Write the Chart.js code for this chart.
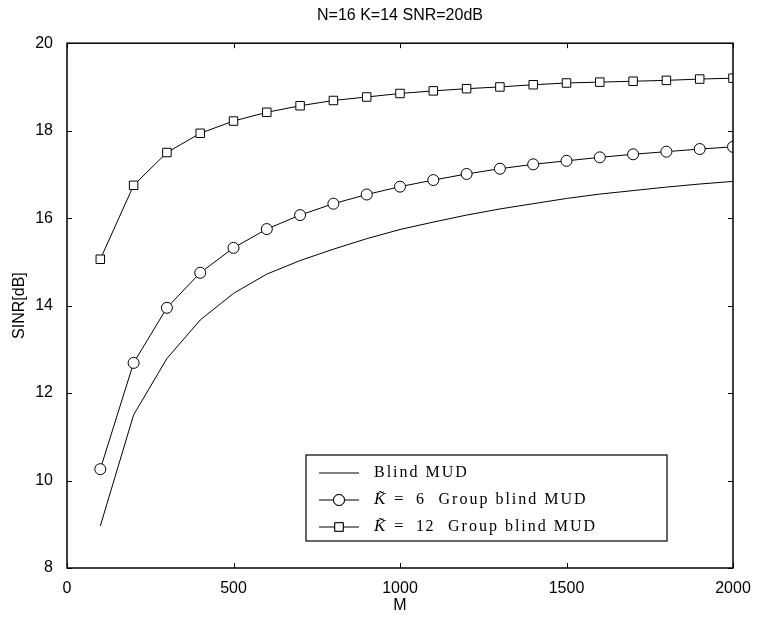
<!DOCTYPE html>
<html lang="en">
<head>
    <meta charset="UTF-8">
    <title>N=16 K=14 SNR=20dB</title>
    <script src="https://cdn.jsdelivr.net/npm/chart.js"></script>
    <style>
        body { margin: 0; background: #fff; }
        canvas { display: block; }
    </style>
</head>
<body>
    <canvas id="sinr" width="759" height="623"></canvas>

    <script>
        // data
        const mValues = [100, 200, 300, 400, 500, 600, 700, 800, 900, 1000,
                         1100, 1200, 1300, 1400, 1500, 1600, 1700, 1800, 1900, 2000];
        const blindMud = [8.96, 11.50, 12.79, 13.67, 14.28, 14.72, 15.03, 15.29, 15.53, 15.74,
                          15.91, 16.07, 16.21, 16.33, 16.45, 16.55, 16.63, 16.71, 16.78, 16.84];
        const groupK6 = [10.26, 12.69, 13.95, 14.75, 15.32, 15.75, 16.07, 16.33, 16.54, 16.72,
                         16.87, 17.01, 17.13, 17.23, 17.31, 17.39, 17.46, 17.52, 17.58, 17.63];
        const groupK12 = [15.06, 16.75, 17.50, 17.94, 18.22, 18.42, 18.57, 18.69, 18.77, 18.85,
                          18.91, 18.96, 19.00, 19.05, 19.09, 19.11, 19.13, 19.15, 19.18, 19.20];
        const xTicks = [0, 500, 1000, 1500, 2000];
        const yTicks = [8, 10, 12, 14, 16, 18, 20];
        const groupSizes = [null, '6', '12'];   // K tilde for each legend row

        const sansFont = '"Liberation Sans", Arial, sans-serif';
        const serifFont = '"Liberation Serif", "DejaVu Serif", serif';

        function points(ys) {
            return mValues.map((m, i) => ({ x: m, y: ys[i] }));
        }

        // box round the plot and small ticks pointing inwards
        const frame = {
            id: 'frame',
            afterDraw(chart) {
                const { ctx, chartArea: a, scales } = chart;
                ctx.save();
                ctx.strokeStyle = '#000';
                ctx.lineWidth = 1.5;
                ctx.strokeRect(a.left, a.top, a.right - a.left, a.bottom - a.top);
                ctx.lineWidth = 1;
                ctx.beginPath();
                xTicks.forEach(v => {
                    const px = Math.round(scales.x.getPixelForValue(v)) + 0.5;
                    ctx.moveTo(px, a.bottom); ctx.lineTo(px, a.bottom - 5);
                    ctx.moveTo(px, a.top); ctx.lineTo(px, a.top + 5);
                });
                yTicks.forEach(v => {
                    const py = Math.round(scales.y.getPixelForValue(v)) + 0.5;
                    ctx.moveTo(a.left, py); ctx.lineTo(a.left + 5, py);
                    ctx.moveTo(a.right, py); ctx.lineTo(a.right - 5, py);
                });
                ctx.stroke();
                ctx.restore();
            }
        };

        // legend box in the lower right of the plot
        const boxLegend = {
            id: 'boxLegend',
            afterDraw(chart) {
                const { ctx, chartArea: a } = chart;
                const left = a.left + 239, top = a.bottom - 113;
                const w = 361, h = 86;
                ctx.save();
                ctx.fillStyle = '#fff';
                ctx.fillRect(left, top, w, h);
                ctx.strokeStyle = '#000';
                ctx.lineWidth = 1.2;
                ctx.strokeRect(left, top, w, h);

                chart.data.datasets.forEach((ds, i) => {
                    const y = top + 18 + i * 27;
                    ctx.strokeStyle = '#000';
                    ctx.lineWidth = 1;
                    ctx.beginPath();
                    ctx.moveTo(left + 13, y); ctx.lineTo(left + 53, y);
                    ctx.stroke();
                    if (ds.pointRadius > 0) {
                        ctx.fillStyle = '#fff';
                        Chart.helpers.drawPoint(ctx, {
                            pointStyle: ds.pointStyle, radius: ds.pointRadius,
                            borderWidth: 1, rotation: 0
                        }, left + 33, y);
                        ctx.fill();
                        ctx.stroke();
                    }
                    ctx.fillStyle = '#000';
                    ctx.textBaseline = 'middle';
                    ctx.letterSpacing = '2px';
                    ctx.font = '16px ' + serifFont;
                    const x = left + 68;
                    if (groupSizes[i] === null) {
                        ctx.fillText(ds.label, x, y);
                    } else {
                        ctx.letterSpacing = '0px';
                        ctx.font = 'italic 17px ' + serifFont;
                        ctx.fillText('K\u0303', x, y);
                        ctx.font = '17px ' + serifFont;
                        ctx.fillText('=', x + 20, y);
                        ctx.letterSpacing = '1.5px';
                        ctx.font = '16px ' + serifFont;
                        ctx.fillText(groupSizes[i], x + 42, y);
                        const nx = x + 42 + ctx.measureText(groupSizes[i]).width + 13;
                        ctx.letterSpacing = '2px';
                        ctx.fillText('Group blind MUD', nx, y);
                    }
                });
                ctx.restore();
            }
        };

        new Chart(document.getElementById('sinr'), {
            type: 'line',
            data: {
                datasets: [
                    {
                        label: 'Blind MUD',
                        data: points(blindMud),
                        borderColor: '#000', borderWidth: 1,
                        pointRadius: 0, pointStyle: false
                    },
                    {
                        label: 'K\u0303 = 6  Group blind MUD',
                        data: points(groupK6),
                        borderColor: '#000', borderWidth: 1,
                        pointStyle: 'circle', pointRadius: 5.5,
                        pointBackgroundColor: '#fff', pointBorderColor: '#000', pointBorderWidth: 1
                    },
                    {
                        label: 'K\u0303 = 12  Group blind MUD',
                        data: points(groupK12),
                        borderColor: '#000', borderWidth: 1,
                        pointStyle: 'rect', pointRadius: 6,
                        pointBackgroundColor: '#fff', pointBorderColor: '#000', pointBorderWidth: 1
                    }
                ]
            },
            options: {
                responsive: false,
                animation: false,
                layout: { padding: { left: 0, right: 26, top: 0, bottom: 0 } },
                plugins: {
                    legend: { display: false },
                    tooltip: { enabled: false },
                    title: {
                        display: true,
                        text: 'N=16 K=14 SNR=20dB',
                        color: '#000',
                        fullSize: false,
                        font: { family: sansFont, size: 16, weight: 'normal' },
                        padding: { top: 6, bottom: 18 }
                    }
                },
                scales: {
                    x: {
                        type: 'linear',
                        min: 0, max: 2000,
                        afterBuildTicks: s => { s.ticks = xTicks.map(v => ({ value: v })); },
                        afterFit: s => { s.height = 55; },
                        grid: { display: false },
                        border: { display: false },
                        ticks: {
                            color: '#000', padding: 3,
                            font: { family: sansFont, size: 16 },
                            callback: v => String(v)
                        },
                        title: {
                            display: true, text: 'M', color: '#000',
                            font: { family: sansFont, size: 16 },
                            padding: { top: 0, bottom: 8 }
                        }
                    },
                    y: {
                        min: 8, max: 20,
                        afterBuildTicks: s => { s.ticks = yTicks.map(v => ({ value: v })); },
                        afterFit: s => { s.width = 67; },
                        grid: { display: false },
                        border: { display: false },
                        ticks: { color: '#000', padding: 6, font: { family: sansFont, size: 16 } },
                        title: {
                            display: true, text: 'SINR[dB]', color: '#000',
                            font: { family: sansFont, size: 16 },
                            padding: { top: 10, bottom: 0 }
                        }
                    }
                }
            },
            plugins: [frame, boxLegend]
        });
    </script>
</body>
</html>
